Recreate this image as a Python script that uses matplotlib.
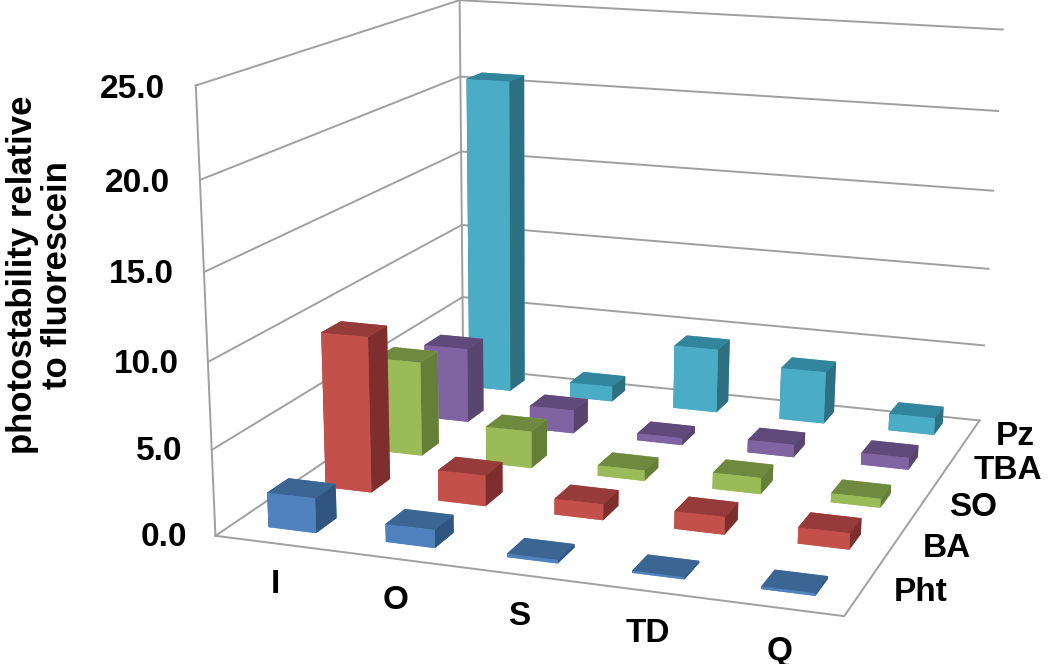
import numpy as np
import matplotlib
matplotlib.use("Agg")
import matplotlib.pyplot as plt
from mpl_toolkits.mplot3d import Axes3D

plt.rcParams['font.family'] = ['Liberation Sans', 'DejaVu Sans']

cats = ['I', 'O', 'S', 'TD', 'Q']
series = ['Pht', 'BA', 'SO', 'TBA', 'Pz']
pht = [2.05, 1.05, 0.2, 0.12, 0.15]
ba = [9.4, 1.85, 0.95, 1.05, 0.95]
so = [5.9, 2.3, 0.65, 1.0, 0.55]
tba = [4.8, 1.5, 0.45, 0.8, 0.75]
pz = [20.6, 1.0, 4.2, 3.4, 1.1]
values = [pht, ba, so, tba, pz]
zticks = [0, 5, 10, 15, 20, 25]

# top, front, side colours per series
colors = [('#3b6593', '#4f81bd', '#2f5580'),
          ('#963b39', '#c4504c', '#7e2f2d'),
          ('#6f8a3f', '#9bbb59', '#667f38'),
          ('#604a7b', '#8064a2', '#584670'),
          ('#31859c', '#4bacc6', '#2d7082')]

fig = plt.figure(figsize=(10.5, 6.64), dpi=100)
# stretched a bit wider than a square box, so keep the position as given
ax = fig.add_axes([124.7 / 1050, -40.2 / 664, 980.7 / 1050, 844.9 / 664],
                  projection='3d', computed_zorder=False)
ax.apply_aspect = lambda position=None: None
ax.set_proj_type('persp', focal_length=0.4741)
ax.view_init(elev=15.875, azim=-71.62, roll=-0.594)
ax.set_box_aspect((1.2167, 1.2356, 1.0), zoom=1)
ax.set_xlim(0, 5)
ax.set_ylim(0, 5)
ax.set_zlim(0, 25)
ax.set_axis_off()

gc = '#a0a0a0'
for z in zticks:
    ax.plot([0, 0], [0, 5], [z, z], color=gc, lw=1.4, zorder=1, clip_on=False)
    ax.plot([0, 5], [5, 5], [z, z], color=gc, lw=1.4, zorder=1, clip_on=False)
ax.plot([0, 0], [0, 0], [0, 25], color=gc, lw=1.4, zorder=1)
ax.plot([0, 0], [5, 5], [0, 25], color=gc, lw=1.4, zorder=1, clip_on=False)
ax.plot([0, 5, 5], [0, 0, 5], [0, 0, 0], color=gc, lw=1.4, zorder=1)

w = 0.41
d = 0.37
zo = 2
for j in range(4, -1, -1):
    for i in range(5):
        top, front, side = colors[j]
        ax.bar3d(i + 0.5 - w / 2, 1.03 * j + 0.5 - d / 2, 0, w, d, values[j][i],
                 color=[front, top, front, front, side, side],
                 shade=False, zorder=zo)
        zo += 1

for i, c in enumerate(cats):
    ax.text(0.96 * i + 0.9, -0.78, 0, c, fontsize=24, fontweight='bold', color='black',
            ha='center', va='center', zorder=100)
for j, s in enumerate(series):
    ax.text(5.23, j + 0.57, 0, s, fontsize=24, fontweight='bold', color='black',
            ha='left', va='center', zorder=100)
for z in zticks:
    ax.text(-0.25, 0, z - 0.3, '%.1f' % z, fontsize=24, fontweight='bold', color='black',
            ha='right', va='center', zorder=100)

fig.text(0.038, 0.586, 'photostability relative\nto fluorescein', rotation=90, fontsize=25,
         fontweight='bold', color='black', ha='center', va='center', linespacing=1.1)

fig.savefig('out.png', dpi=100)
